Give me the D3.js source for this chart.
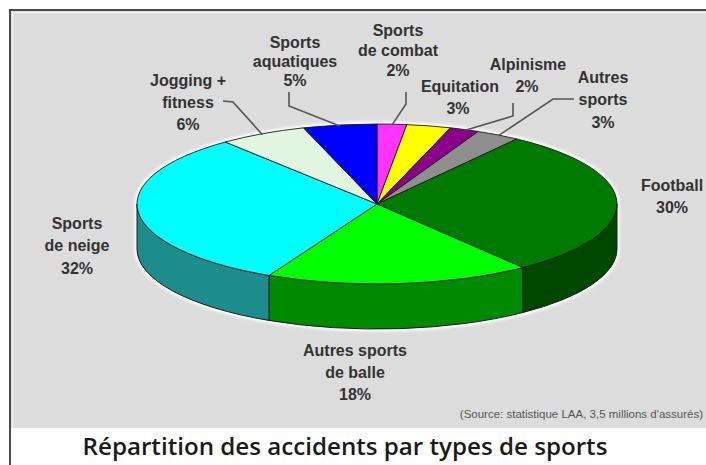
<!DOCTYPE html>
<html><head><meta charset="utf-8">
<script src="https://cdn.jsdelivr.net/npm/d3@7"></script>
<style>html,body{margin:0;padding:0;background:#fff;}svg{display:block;}</style>
</head><body>
<svg id="chart" width="706" height="465"></svg>
<script>
// ---- data ----
const categories = ["Sports de combat","Equitation","Alpinisme","Autres sports","Football","Autres sports de balle","Sports de neige","Jogging + fitness","Sports aquatiques"];
const values = [2,3,2,3,30,18,32,6,5];
const labelNames = [["Sports","de combat"],["Equitation"],["Alpinisme"],["Autres","sports"],["Football"],["Autres sports","de balle"],["Sports","de neige"],["Jogging +","fitness"],["Sports","aquatiques"]];
const title = "Répartition des accidents par types de sports";
const source = "(Source: statistique LAA, 3,5 millions d'assurés)";

// ---- styles / layout ----
const topColors  = ["#ff33ff","#ffff00","#8b008b","#8e8e8e","#007a00","#00ff00","#00ffff","#e2f5e0","#0000ff"];
const sideColors = ["#b000b0","#b0b000","#500050","#555","#004800","#008a00","#1c8c8c","#9ab09a","#0000a0"];
const cx = 377, cy = 204, rx = 240, ry = 80, depth = 45;
// label placement: [x, y of first line, line spacing]
const labelPos = [[398,30,20],[460,86,22],[528,64,22],[603,77,22.5],[672,185,22],[355,350,22],[77,223,22.5],[188,80,22],[295,42,19]];
const pctPos = {1:[458,108], 2:[527,86]};
const leaders = {0:[[406,92],[406,104]], 8:[[289,92],[289,106]], 7:[[223,101],[233,102]], 2:[[513,103],[513,116]], 3:[[574,99],[553,99]]};

const svg = d3.select("#chart");
svg.append("rect").attr("x",0).attr("y",0).attr("width",706).attr("height",465).attr("fill","#fff");
svg.append("rect").attr("x",10).attr("y",10).attr("width",696).attr("height",418).attr("fill","#dcdcdc");
svg.append("line").attr("x1",9).attr("x2",706).attr("y1",10).attr("y2",10).attr("stroke","#4a4a4a").attr("stroke-width",2);
svg.append("line").attr("x1",10).attr("x2",10).attr("y1",9).attr("y2",465).attr("stroke","#4a4a4a").attr("stroke-width",2);
svg.append("line").attr("x1",12).attr("x2",706).attr("y1",12.5).attr("y2",12.5).attr("stroke","#f0f0f0").attr("stroke-width",1.5);
svg.append("line").attr("x1",12.5).attr("x2",12.5).attr("y1",12).attr("y2",428).attr("stroke","#f0f0f0").attr("stroke-width",1.5);

const pie = d3.pie().sort(null).value(d => d).startAngle(0).endAngle(2*Math.PI);
const arcs = pie(values);
const P = (a, dy=0) => [cx + rx*Math.sin(a), cy - ry*Math.cos(a) + dy];

const defs = svg.append("defs");
defs.append("filter").attr("id","glow").append("feGaussianBlur").attr("stdDeviation",1.5);

const sil = `M${cx-rx},${cy} A${rx},${ry} 0 0 1 ${cx+rx},${cy} L${cx+rx},${cy+depth} A${rx},${ry} 0 0 1 ${cx-rx},${cy+depth} Z`;
svg.append("path").attr("d",sil).attr("fill","none").attr("stroke","#fff").attr("stroke-width",5).attr("filter","url(#glow)");

const g = svg.append("g");
arcs.forEach((d,i) => {
  const s0 = Math.max(d.startAngle, Math.PI/2), s1 = Math.min(d.endAngle, 3*Math.PI/2);
  if (s1 <= s0) return;
  const a = P(s0), b = P(s1), c = P(s1,depth), e = P(s0,depth);
  const large = (s1-s0) > Math.PI ? 1 : 0;
  g.append("path")
    .attr("d",`M${a} A${rx},${ry} 0 ${large} 1 ${b} L${c} A${rx},${ry} 0 ${large} 0 ${e} Z`)
    .attr("fill",sideColors[i]).attr("stroke","#1a1a1a").attr("stroke-width",1).attr("stroke-linejoin","round");
});
arcs.forEach((d,i) => {
  const a = P(d.startAngle), b = P(d.endAngle);
  const large = (d.endAngle-d.startAngle) > Math.PI ? 1 : 0;
  g.append("path")
    .attr("d",`M${cx},${cy} L${a} A${rx},${ry} 0 ${large} 1 ${b} Z`)
    .attr("fill",topColors[i]).attr("stroke","#1a1a1a").attr("stroke-width",0.9).attr("stroke-linejoin","round");
});

Object.keys(leaders).forEach(k => {
  const i = +k, d = arcs[i];
  const m = (d.startAngle + d.endAngle)/2;
  const pts = leaders[i].concat([P(m,1)]);
  svg.append("path").attr("d", d3.line()(pts)).attr("fill","none").attr("stroke","#555").attr("stroke-width",1.6);
});

const font = "'Liberation Sans', Arial, sans-serif";
categories.forEach((c,i) => {
  const [x,y,sp] = labelPos[i];
  const lines = labelNames[i].slice();
  const pct = values[i] + "%";
  const t = svg.append("g").attr("font-family",font).attr("font-size",16).attr("font-weight","bold").attr("fill","#333").attr("text-anchor","middle");
  lines.forEach((l,j) => t.append("text").attr("x",x).attr("y",y+j*sp).attr("dominant-baseline","central").text(l));
  if (pctPos[i]) t.append("text").attr("x",pctPos[i][0]).attr("y",pctPos[i][1]).attr("dominant-baseline","central").text(pct);
  else t.append("text").attr("x",x).attr("y",y+lines.length*sp).attr("dominant-baseline","central").text(pct);
});

svg.append("text").attr("x",703).attr("y",414).attr("text-anchor","end").attr("dominant-baseline","central")
  .attr("font-family",font).attr("font-size",11.5).attr("fill","#555").text(source);

const tt = svg.append("text").attr("x",345).attr("y",455).attr("text-anchor","middle")
  .attr("font-family","'Open Sans', 'Noto Sans', sans-serif").attr("font-weight",600).attr("font-size",24).attr("fill","#1a1a1a").text(title);
const w = tt.node().getComputedTextLength();
tt.attr("font-size", 24*525/w);
</script>
</body></html>
